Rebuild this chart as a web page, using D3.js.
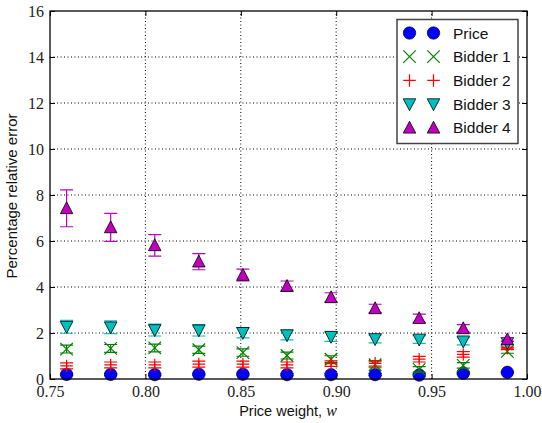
<!DOCTYPE html>
<html><head><meta charset="utf-8">
<script src="https://cdnjs.cloudflare.com/ajax/libs/d3/7.8.5/d3.min.js"></script>
<style>body{margin:0;background:#fff}svg{display:block}
.tick text{font-family:"Liberation Serif","Times New Roman","DejaVu Serif",serif !important;}
</style>
</head><body>
<script>
const weights = [0.7587, 0.7818, 0.8049, 0.8280, 0.8511, 0.8742, 0.8973, 0.9204, 0.9435, 0.9666, 0.9897];
const seriesNames = ["Price", "Bidder 1", "Bidder 2", "Bidder 3", "Bidder 4"];
const priceVals   = [0.20, 0.20, 0.19, 0.21, 0.21, 0.19, 0.19, 0.19, 0.17, 0.25, 0.29];
const priceErr    = [0.04, 0.04, 0.04, 0.04, 0.04, 0.04, 0.04, 0.04, 0.04, 0.04, 0.03];
const bidder1Vals = [1.30, 1.33, 1.35, 1.27, 1.15, 1.02, 0.86, 0.62, 0.42, 0.59, 1.20];
const bidder1Err  = [0.17, 0.17, 0.17, 0.16, 0.16, 0.15, 0.15, 0.13, 0.12, 0.12, 0.08];
const bidder2Vals = [0.57, 0.61, 0.61, 0.65, 0.65, 0.61, 0.67, 0.68, 0.86, 1.07, 1.34];
const bidder2Err  = [0.13, 0.13, 0.13, 0.13, 0.13, 0.13, 0.12, 0.12, 0.12, 0.12, 0.05];
const bidder3Vals = [2.27, 2.25, 2.13, 2.12, 2.01, 1.91, 1.84, 1.74, 1.72, 1.64, 1.57];
const bidder3Err  = [0.28, 0.28, 0.26, 0.25, 0.22, 0.21, 0.20, 0.17, 0.17, 0.16, 0.08];
const bidder4Vals = [7.42, 6.59, 5.81, 5.10, 4.52, 4.04, 3.55, 3.07, 2.64, 2.20, 1.72];
const bidder4Err  = [0.80, 0.61, 0.47, 0.35, 0.26, 0.22, 0.20, 0.18, 0.18, 0.16, 0.08];
const xTicks = [0.75, 0.80, 0.85, 0.90, 0.95, 1.00];
const yTicks = [0, 2, 4, 6, 8, 10, 12, 14, 16];

const colors = ["#0000ff", "#008000", "#ff0000", "#00bfbf", "#bf00bf"];
const shapes = ["circle", "x", "plus", "tdown", "tup"];
const series = seriesNames.map((n, i) => ({
  name: n, color: colors[i], shape: shapes[i],
  vals: [priceVals, bidder1Vals, bidder2Vals, bidder3Vals, bidder4Vals][i],
  err: [priceErr, bidder1Err, bidder2Err, bidder3Err, bidder4Err][i]
}));

const W = 542, H = 423;
const m = {l: 50, r: 15, t: 11, b: 44};
const svg = d3.select("body").append("svg").attr("width", W).attr("height", H);
const x = d3.scaleLinear().domain([0.75, 1.0]).range([m.l, W - m.r]);
const y = d3.scaleLinear().domain([0, 16]).range([H - m.b, m.t]);
const serif = "'Liberation Serif', 'Times New Roman', 'DejaVu Serif', serif";

// grid
const g = svg.append("g");
g.selectAll(".gx").data(xTicks.slice(1, -1)).join("line")
  .attr("x1", d => x(d)).attr("x2", d => x(d)).attr("y1", y(0)).attr("y2", y(16))
  .attr("stroke", "#000").attr("stroke-width", 1).attr("stroke-dasharray", "1,2.5");
g.selectAll(".gy").data(yTicks.slice(1, -1)).join("line")
  .attr("y1", d => y(d)).attr("y2", d => y(d)).attr("x1", x(0.75)).attr("x2", x(1))
  .attr("stroke", "#000").attr("stroke-width", 1).attr("stroke-dasharray", "1,2.5");

// ticks inward on all sides
const tl = 5;
svg.append("g").attr("transform", `translate(0,${y(0)})`)
  .call(d3.axisBottom(x).tickValues(xTicks).tickSize(-tl).tickFormat(d3.format(".2f")).tickPadding(6.5))
  .attr("font-family", serif).attr("font-size", 16)
  .call(a => a.select(".domain").remove());
svg.append("g").attr("transform", `translate(0,${y(16)})`)
  .call(d3.axisTop(x).tickValues(xTicks).tickSize(-tl).tickFormat(""))
  .call(a => a.select(".domain").remove());
svg.append("g").attr("transform", `translate(${x(0.75)},0)`)
  .call(d3.axisLeft(y).tickValues(yTicks).tickSize(-tl).tickFormat(d3.format("d")).tickPadding(6))
  .attr("font-family", serif).attr("font-size", 16)
  .call(a => a.select(".domain").remove());
svg.append("g").attr("transform", `translate(${x(1)},0)`)
  .call(d3.axisRight(y).tickValues(yTicks).tickSize(-tl).tickFormat(""))
  .call(a => a.select(".domain").remove());
svg.selectAll(".tick line").attr("stroke", "#000").attr("stroke-width", 1);
svg.selectAll(".tick text").attr("font-family", serif).attr("font-size", 16).attr("fill", "#222");

function drawMarker(sel, shape, color, s) {
  const h = s / 2;
  if (shape === "circle") {
    sel.append("circle").attr("r", h).attr("fill", color).attr("stroke", "#000").attr("stroke-width", 0.6);
  } else if (shape === "x") {
    sel.append("path").attr("d", `M${-h},${-h}L${h},${h}M${-h},${h}L${h},${-h}`)
      .attr("stroke", color).attr("stroke-width", 1.2).attr("fill", "none");
  } else if (shape === "plus") {
    sel.append("path").attr("d", `M${-h},0L${h},0M0,${-h}L0,${h}`)
      .attr("stroke", color).attr("stroke-width", 1.2).attr("fill", "none");
  } else if (shape === "tdown") {
    sel.append("path").attr("d", `M${-h},${-h*0.85}L${h},${-h*0.85}L0,${h*1.05}Z`)
      .attr("fill", color).attr("stroke", "#000").attr("stroke-width", 0.8);
  } else if (shape === "tup") {
    sel.append("path").attr("d", `M${-h},${h*0.85}L${h},${h*0.85}L0,${-h*1.05}Z`)
      .attr("fill", color).attr("stroke", "#000").attr("stroke-width", 0.8);
  }
}

const plot = svg.append("g");
const cap = 6.5;
series.forEach(s => {
  const sg = plot.append("g");
  const pts = weights.map((w, i) => ({w, v: s.vals[i], e: s.err[i]}));
  pts.forEach(p => {
    const px = x(p.w), y1 = y(p.v + p.e), y0 = y(p.v - p.e);
    sg.append("path").attr("d", `M${px},${y1}L${px},${y0}M${px-cap},${y1}L${px+cap},${y1}M${px-cap},${y0}L${px+cap},${y0}`)
      .attr("stroke", s.color).attr("stroke-width", 1.2).attr("fill", "none");
  });
  pts.forEach(p => {
    const mg = sg.append("g").attr("transform", `translate(${x(p.w)},${y(p.v)})`);
    drawMarker(mg, s.shape, s.color, 12.5);
  });
});

// frame
svg.append("rect").attr("x", x(0.75)).attr("y", y(16)).attr("width", x(1) - x(0.75)).attr("height", y(0) - y(16))
  .attr("fill", "none").attr("stroke", "#000").attr("stroke-width", 1.3);

// axis labels
const xl = svg.append("text").attr("x", 288).attr("y", 416).attr("text-anchor", "middle")
  .attr("font-family", "'Liberation Sans', sans-serif").attr("font-size", 14.5).attr("fill", "#111");
xl.append("tspan").text("Price weight, ");
xl.append("tspan").attr("font-family", serif).attr("font-style", "italic").attr("font-size", 16).text("w");
svg.append("text").attr("transform", "translate(17,196) rotate(-90)").attr("text-anchor", "middle")
  .attr("font-family", "'Liberation Sans', sans-serif").attr("font-size", 15).attr("fill", "#111")
  .text("Percentage relative error");

// legend
const lg = svg.append("g");
lg.append("rect").attr("x", 397).attr("y", 19.5).attr("width", 121).attr("height", 124)
  .attr("fill", "#fff").attr("stroke", "#444").attr("stroke-width", 1.5);
series.forEach((s, i) => {
  const yy = 33 + i * 23.7;
  [409.5, 433.5].forEach(xx => {
    drawMarker(lg.append("g").attr("transform", `translate(${xx},${yy})`), s.shape, s.color, 12.5);
  });
  lg.append("text").attr("x", 453).attr("y", yy).attr("dy", "0.36em")
    .attr("font-family", "'Liberation Sans', sans-serif").attr("font-size", 15.5).attr("fill", "#111")
    .text(s.name);
});
</script>
</body></html>
